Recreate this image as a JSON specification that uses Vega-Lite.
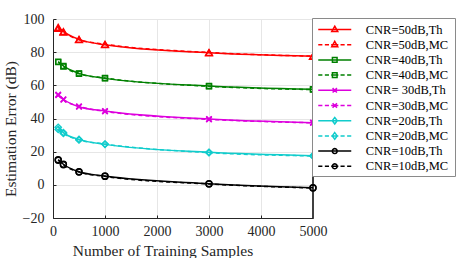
{
  "$schema": "https://vega.github.io/schema/vega-lite/v6.json",
  "width": 260,
  "height": 199,
  "autosize": {"type": "none"},
  "padding": {"left": 53, "top": 19, "right": 150, "bottom": 40},
  "background": "white",
  "config": {
    "view": {"stroke": "#9a9a9a", "strokeWidth": 1},
    "font": "Liberation Serif"
  },
  "data": {
    "values": [
      {"series": "CNR=50dB,Th", "cnr": "50", "kind": "Th", "x": 100, "y": 95.0},
      {"series": "CNR=50dB,Th", "cnr": "50", "kind": "Th", "x": 200, "y": 92.4},
      {"series": "CNR=50dB,Th", "cnr": "50", "kind": "Th", "x": 500, "y": 87.7},
      {"series": "CNR=50dB,Th", "cnr": "50", "kind": "Th", "x": 1000, "y": 84.5},
      {"series": "CNR=50dB,Th", "cnr": "50", "kind": "Th", "x": 3000, "y": 79.6},
      {"series": "CNR=50dB,Th", "cnr": "50", "kind": "Th", "x": 5000, "y": 77.5},
      {"series": "CNR=50dB,MC", "cnr": "50", "kind": "MC", "x": 100, "y": 94.3},
      {"series": "CNR=50dB,MC", "cnr": "50", "kind": "MC", "x": 200, "y": 92.0},
      {"series": "CNR=50dB,MC", "cnr": "50", "kind": "MC", "x": 500, "y": 87.5},
      {"series": "CNR=50dB,MC", "cnr": "50", "kind": "MC", "x": 1000, "y": 84.8},
      {"series": "CNR=50dB,MC", "cnr": "50", "kind": "MC", "x": 3000, "y": 79.8},
      {"series": "CNR=50dB,MC", "cnr": "50", "kind": "MC", "x": 5000, "y": 77.6},
      {"series": "CNR=40dB,Th", "cnr": "40", "kind": "Th", "x": 100, "y": 74.3},
      {"series": "CNR=40dB,Th", "cnr": "40", "kind": "Th", "x": 200, "y": 71.7},
      {"series": "CNR=40dB,Th", "cnr": "40", "kind": "Th", "x": 500, "y": 67.2},
      {"series": "CNR=40dB,Th", "cnr": "40", "kind": "Th", "x": 1000, "y": 64.2},
      {"series": "CNR=40dB,Th", "cnr": "40", "kind": "Th", "x": 3000, "y": 59.6},
      {"series": "CNR=40dB,Th", "cnr": "40", "kind": "Th", "x": 5000, "y": 57.6},
      {"series": "CNR=40dB,MC", "cnr": "40", "kind": "MC", "x": 100, "y": 74.0},
      {"series": "CNR=40dB,MC", "cnr": "40", "kind": "MC", "x": 200, "y": 71.3},
      {"series": "CNR=40dB,MC", "cnr": "40", "kind": "MC", "x": 500, "y": 67.0},
      {"series": "CNR=40dB,MC", "cnr": "40", "kind": "MC", "x": 1000, "y": 64.4},
      {"series": "CNR=40dB,MC", "cnr": "40", "kind": "MC", "x": 3000, "y": 59.4},
      {"series": "CNR=40dB,MC", "cnr": "40", "kind": "MC", "x": 5000, "y": 57.4},
      {"series": "CNR= 30dB,Th", "cnr": "30", "kind": "Th", "x": 100, "y": 54.4},
      {"series": "CNR= 30dB,Th", "cnr": "30", "kind": "Th", "x": 200, "y": 51.6},
      {"series": "CNR= 30dB,Th", "cnr": "30", "kind": "Th", "x": 500, "y": 47.1},
      {"series": "CNR= 30dB,Th", "cnr": "30", "kind": "Th", "x": 1000, "y": 44.5},
      {"series": "CNR= 30dB,Th", "cnr": "30", "kind": "Th", "x": 3000, "y": 39.7},
      {"series": "CNR= 30dB,Th", "cnr": "30", "kind": "Th", "x": 5000, "y": 37.5},
      {"series": "CNR=30dB,MC", "cnr": "30", "kind": "MC", "x": 100, "y": 54.0},
      {"series": "CNR=30dB,MC", "cnr": "30", "kind": "MC", "x": 200, "y": 51.3},
      {"series": "CNR=30dB,MC", "cnr": "30", "kind": "MC", "x": 500, "y": 47.3},
      {"series": "CNR=30dB,MC", "cnr": "30", "kind": "MC", "x": 1000, "y": 44.3},
      {"series": "CNR=30dB,MC", "cnr": "30", "kind": "MC", "x": 3000, "y": 39.5},
      {"series": "CNR=30dB,MC", "cnr": "30", "kind": "MC", "x": 5000, "y": 37.4},
      {"series": "CNR=20dB,Th", "cnr": "20", "kind": "Th", "x": 100, "y": 34.7},
      {"series": "CNR=20dB,Th", "cnr": "20", "kind": "Th", "x": 200, "y": 31.5},
      {"series": "CNR=20dB,Th", "cnr": "20", "kind": "Th", "x": 500, "y": 27.4},
      {"series": "CNR=20dB,Th", "cnr": "20", "kind": "Th", "x": 1000, "y": 24.4},
      {"series": "CNR=20dB,Th", "cnr": "20", "kind": "Th", "x": 3000, "y": 19.6},
      {"series": "CNR=20dB,Th", "cnr": "20", "kind": "Th", "x": 5000, "y": 17.6},
      {"series": "CNR=20dB,MC", "cnr": "20", "kind": "MC", "x": 100, "y": 33.4},
      {"series": "CNR=20dB,MC", "cnr": "20", "kind": "MC", "x": 200, "y": 31.0},
      {"series": "CNR=20dB,MC", "cnr": "20", "kind": "MC", "x": 500, "y": 27.1},
      {"series": "CNR=20dB,MC", "cnr": "20", "kind": "MC", "x": 1000, "y": 24.6},
      {"series": "CNR=20dB,MC", "cnr": "20", "kind": "MC", "x": 3000, "y": 19.4},
      {"series": "CNR=20dB,MC", "cnr": "20", "kind": "MC", "x": 5000, "y": 17.4},
      {"series": "CNR=10dB,Th", "cnr": "10", "kind": "Th", "x": 100, "y": 15.2},
      {"series": "CNR=10dB,Th", "cnr": "10", "kind": "Th", "x": 200, "y": 12.4},
      {"series": "CNR=10dB,Th", "cnr": "10", "kind": "Th", "x": 500, "y": 7.9},
      {"series": "CNR=10dB,Th", "cnr": "10", "kind": "Th", "x": 1000, "y": 5.3},
      {"series": "CNR=10dB,Th", "cnr": "10", "kind": "Th", "x": 3000, "y": 0.7},
      {"series": "CNR=10dB,Th", "cnr": "10", "kind": "Th", "x": 5000, "y": -1.7},
      {"series": "CNR=10dB,MC", "cnr": "10", "kind": "MC", "x": 100, "y": 14.8},
      {"series": "CNR=10dB,MC", "cnr": "10", "kind": "MC", "x": 200, "y": 12.1},
      {"series": "CNR=10dB,MC", "cnr": "10", "kind": "MC", "x": 500, "y": 7.7},
      {"series": "CNR=10dB,MC", "cnr": "10", "kind": "MC", "x": 1000, "y": 5.1},
      {"series": "CNR=10dB,MC", "cnr": "10", "kind": "MC", "x": 3000, "y": 0.5},
      {"series": "CNR=10dB,MC", "cnr": "10", "kind": "MC", "x": 5000, "y": -1.9}
    ]
  },
  "encoding": {
    "x": {
      "field": "x", "type": "quantitative",
      "scale": {"domain": [0, 5000], "nice": false, "zero": false},
      "axis": {
        "title": "Number of Training Samples",
        "values": [0, 1000, 2000, 3000, 4000, 5000],
        "format": "d",
        "grid": true, "gridColor": "#e6e6e6",
        "domainColor": "#262626",
        "tickColor": "#262626", "tickSize": -3,
        "labelPadding": 9,
        "labelFont": "Liberation Serif", "labelFontSize": 14, "labelColor": "#262626",
        "labelFlush": false,
        "titleFont": "Liberation Serif", "titleFontSize": 15.5, "titleFontWeight": "normal", "titleColor": "#262626",
        "titleBaseline": "alphabetic", "titleX": 109.5, "titleY": 37.5, "titleAlign": "center"
      }
    },
    "y": {
      "field": "y", "type": "quantitative",
      "scale": {"domain": [-20, 100], "nice": false, "zero": false},
      "axis": {
        "title": "Estimation Error (dB)",
        "values": [-20, 0, 20, 40, 60, 80, 100],
        "grid": true, "gridColor": "#e6e6e6",
        "domainColor": "#262626",
        "tickColor": "#262626", "tickSize": -3,
        "labelPadding": 12,
        "labelFont": "Liberation Serif", "labelFontSize": 14, "labelColor": "#262626",
        "labelFlush": false,
        "titleFont": "Liberation Serif", "titleFontSize": 15.5, "titleFontWeight": "normal", "titleColor": "#262626",
        "titleBaseline": "alphabetic", "titleX": -38, "titleY": 109.5, "titleAlign": "center", "titleAngle": -90
      }
    }
  },
  "layer": [
    {
      "mark": {"type": "rule", "color": "#404040", "strokeWidth": 1},
      "encoding": {"x": {"datum": 5000, "type": "quantitative"}, "y": null}
    },
    {
      "transform": [{"filter": "datum.kind == 'MC'"}],
      "mark": {"type": "line", "interpolate": "monotone", "strokeWidth": 1.5, "strokeDash": [4, 3]},
      "encoding": {
        "detail": {"field": "series", "type": "nominal"},
        "stroke": {
          "field": "cnr", "type": "nominal", "legend": null,
          "scale": {
            "domain": ["50", "40", "30", "20", "10"],
            "range": ["#ff0000", "#008000", "#dd00dd", "#11cccc", "#000000"]
          }
        }
      }
    },
    {
      "transform": [{"filter": "datum.kind == 'Th'"}],
      "mark": {"type": "line", "interpolate": "monotone", "strokeWidth": 1.5},
      "encoding": {
        "detail": {"field": "series", "type": "nominal"},
        "stroke": {"field": "cnr", "type": "nominal", "legend": null}
      }
    },
    {
      "transform": [{"filter": "datum.cnr == '50'"}],
      "mark": {"type": "point", "shape": "triangle-up", "size": 45, "filled": false, "strokeWidth": 1.4, "opacity": 1},
      "encoding": {"stroke": {"field": "cnr", "type": "nominal", "legend": null}}
    },
    {
      "transform": [{"filter": "datum.cnr == '40'"}],
      "mark": {"type": "point", "shape": "square", "size": 25, "filled": false, "strokeWidth": 1.4, "opacity": 1},
      "encoding": {"stroke": {"field": "cnr", "type": "nominal", "legend": null}}
    },
    {
      "transform": [{"filter": "datum.cnr == '30'"}],
      "mark": {"type": "point", "shape": "M-1,-1L1,1M-1,1L1,-1", "size": 30, "filled": false, "strokeWidth": 1.6, "opacity": 1},
      "encoding": {"stroke": {"field": "cnr", "type": "nominal", "legend": null}}
    },
    {
      "transform": [{"filter": "datum.cnr == '20'"}],
      "mark": {"type": "point", "shape": "diamond", "size": 40, "filled": false, "strokeWidth": 1.4, "opacity": 1},
      "encoding": {"stroke": {"field": "cnr", "type": "nominal", "legend": null}}
    },
    {
      "transform": [{"filter": "datum.cnr == '10'"}],
      "mark": {"type": "point", "shape": "circle", "size": 36, "filled": false, "strokeWidth": 1.4, "opacity": 1},
      "encoding": {"stroke": {"field": "cnr", "type": "nominal", "legend": null}}
    },
    {
      "transform": [{"filter": "false"}],
      "mark": {"type": "point", "filled": false},
      "encoding": {
        "color": {
          "field": "series", "type": "nominal",
          "scale": {
            "domain": ["CNR=50dB,Th", "CNR=50dB,MC", "CNR=40dB,Th", "CNR=40dB,MC", "CNR= 30dB,Th", "CNR=30dB,MC", "CNR=20dB,Th", "CNR=20dB,MC", "CNR=10dB,Th", "CNR=10dB,MC"],
            "range": ["#ff0000", "#ff0000", "#008000", "#008000", "#dd00dd", "#dd00dd", "#11cccc", "#11cccc", "#000000", "#000000"]
          },
          "legend": {
            "title": null, "orient": "none", "legendX": 259, "legendY": -1,
            "padding": 3, "symbolOffset": 11.25, "labelOffset": 22.5, "rowPadding": 0.2,
            "symbolSize": 225, "symbolStrokeWidth": 1.5, "symbolOpacity": 1,
            "labelFont": "Liberation Serif", "labelFontSize": 12.5, "labelColor": "#000000", "labelLimit": 200,
            "fillColor": "#ffffff", "strokeColor": "#8a8a8a"
          }
        },
        "shape": {
          "field": "series", "type": "nominal",
          "scale": {
            "domain": ["CNR=50dB,Th", "CNR=50dB,MC", "CNR=40dB,Th", "CNR=40dB,MC", "CNR= 30dB,Th", "CNR=30dB,MC", "CNR=20dB,Th", "CNR=20dB,MC", "CNR=10dB,Th", "CNR=10dB,MC"],
            "range": [
              "M-2.2,0H2.2M0,-0.44L0.4,0.27L-0.4,0.27ZM15.2,0",
              "M-2.2,0H-1.65M-1.32,0H-0.77M-0.48,0H0.48M0.77,0H1.32M1.65,0H2.2M0,-0.44L0.4,0.27L-0.4,0.27ZM15.2,0",
              "M-2.2,0H2.2M-0.31,-0.31H0.31V0.31H-0.31ZM15.2,0",
              "M-2.2,0H-1.65M-1.32,0H-0.77M-0.48,0H0.48M0.77,0H1.32M1.65,0H2.2M-0.31,-0.31H0.31V0.31H-0.31ZM15.2,0",
              "M-2.2,0H2.2M-0.29,-0.29L0.29,0.29M-0.29,0.29L0.29,-0.29M15.2,0",
              "M-2.2,0H-1.65M-1.32,0H-0.77M-0.48,0H0.48M0.77,0H1.32M1.65,0H2.2M-0.29,-0.29L0.29,0.29M-0.29,0.29L0.29,-0.29M15.2,0",
              "M-2.2,0H2.2M0,-0.44L0.33,0L0,0.44L-0.33,0ZM15.2,0",
              "M-2.2,0H-1.65M-1.32,0H-0.77M-0.48,0H0.48M0.77,0H1.32M1.65,0H2.2M0,-0.44L0.33,0L0,0.44L-0.33,0ZM15.2,0",
              "M-2.2,0H2.2M0.33,0L0.286,0.165L0.165,0.286L0,0.33L-0.165,0.286L-0.286,0.165L-0.33,0L-0.286,-0.165L-0.165,-0.286L0,-0.33L0.165,-0.286L0.286,-0.165ZM15.2,0",
              "M-2.2,0H-1.65M-1.32,0H-0.77M-0.48,0H0.48M0.77,0H1.32M1.65,0H2.2M0.33,0L0.286,0.165L0.165,0.286L0,0.33L-0.165,0.286L-0.286,0.165L-0.33,0L-0.286,-0.165L-0.165,-0.286L0,-0.33L0.165,-0.286L0.286,-0.165ZM15.2,0"
            ]
          },
          "legend": {
            "title": null, "orient": "none", "legendX": 259, "legendY": -1,
            "padding": 3, "symbolOffset": 11.25, "labelOffset": 22.5, "rowPadding": 0.2,
            "symbolSize": 225, "symbolStrokeWidth": 1.5, "symbolOpacity": 1,
            "labelFont": "Liberation Serif", "labelFontSize": 12.5, "labelColor": "#000000", "labelLimit": 200,
            "fillColor": "#ffffff", "strokeColor": "#8a8a8a"
          }
        }
      }
    }
  ]
}
